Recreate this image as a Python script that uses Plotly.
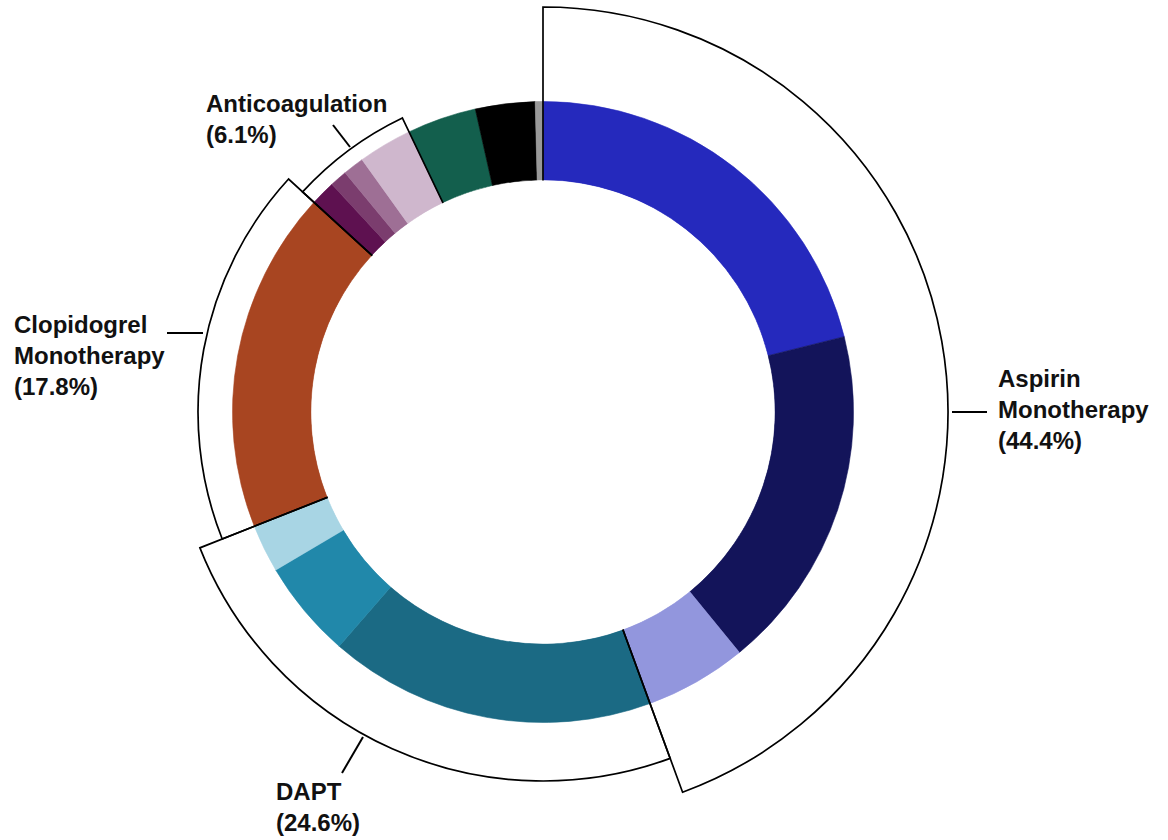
import numpy as np
import plotly.graph_objects as go

# ---------------- data ----------------
segment_names = [
    "Aspirin A", "Aspirin B", "Aspirin C",
    "DAPT A", "DAPT B", "DAPT C",
    "Clopidogrel",
    "Anticoag A", "Anticoag B", "Anticoag C", "Anticoag D",
    "Other A", "Other B", "Other C",
]
segment_values = [21.1, 18.0, 5.3, 17.0, 5.1, 2.5, 17.8, 1.3, 0.9, 1.1, 2.8, 3.6, 3.1, 0.4]
segment_colors = [
    "#2529BD", "#13145A", "#9296DD",
    "#1B6A84", "#2188AA", "#A8D5E4",
    "#A84521",
    "#5E1150", "#7B3D6E", "#9E6F95", "#CFB7CD",
    "#135F4D", "#000000", "#999999",
]

group_names = ["Aspirin<br>Monotherapy", "DAPT", "Clopidogrel<br>Monotherapy", "Anticoagulation"]
group_values = [44.4, 24.6, 17.8, 6.1]

# ---------------- geometry / style ----------------
W, H = 1168, 840
CX, CY = 543, 412          # centre in px (from top-left)
RMAX = 410                 # radial axis range in px units
RING_IN, RING_OUT = 232, 310.5
GROUP_OUTER = [405, 369, 345, 326]

seg = np.array(segment_values) * 3.6
seg_start = np.concatenate([[0], np.cumsum(seg)[:-1]])
seg_theta = seg_start + seg / 2

grp = np.array(group_values) * 3.6
grp_start = np.concatenate([[0], np.cumsum(grp)[:-1]])
grp_theta = grp_start + grp / 2

fig = go.Figure()

# ring segments
fig.add_trace(go.Barpolar(
    theta=seg_theta, width=seg, r=[RING_OUT - RING_IN] * len(seg),
    base=[RING_IN] * len(seg),
    marker=dict(color=segment_colors, line=dict(color=segment_colors, width=0.6)),
    hoverinfo="skip", showlegend=False,
))

# group brackets (outline only)
fig.add_trace(go.Barpolar(
    theta=grp_theta, width=grp, r=GROUP_OUTER, base=[0] * len(grp),
    marker=dict(color="rgba(0,0,0,0)", line=dict(color="black", width=1.7)),
    hoverinfo="skip", showlegend=False,
))

# white centre
fig.add_trace(go.Barpolar(
    theta=[90, 270], width=[180, 180], r=[RING_IN - 0.5, RING_IN - 0.5], base=[0, 0],
    marker=dict(color="white", line=dict(color="white", width=0)),
    hoverinfo="skip", showlegend=False,
))

dom_x = [(CX - RMAX) / W, (CX + RMAX) / W]
dom_y = [(H - CY - RMAX) / H, (H - CY + RMAX) / H]

fig.update_layout(
    width=W, height=H,
    margin=dict(l=0, r=0, t=0, b=0),
    paper_bgcolor="white",
    polar=dict(
        domain=dict(x=dom_x, y=dom_y),
        bgcolor="white",
        barmode="overlay",
        angularaxis=dict(rotation=90, direction="clockwise", showgrid=False,
                         showline=False, showticklabels=False, ticks=""),
        radialaxis=dict(range=[0, RMAX], showgrid=False, showline=False,
                        showticklabels=False, ticks=""),
    ),
    showlegend=False,
)

def px(x, y):
    return x / W, 1 - y / H

font = dict(family="Liberation Sans, Arial, sans-serif", size=24, color="#111111")

labels = [
    (f"{group_names[0]}<br>({group_values[0]}%)", 996, 409),
    (f"{group_names[1]}<br>({group_values[1]}%)", 274, 807),
    (f"{group_names[2]}<br>({group_values[2]}%)", 12, 355),
    (f"{group_names[3]}<br>({group_values[3]}%)", 204, 119),
]
for text, x, y in labels:
    ax, ay = px(x, y)
    fig.add_annotation(x=ax, y=ay, xref="paper", yref="paper", text=f"<b>{text}</b>",
                       showarrow=False, xanchor="left", yanchor="middle", align="left",
                       font=font)

leaders = [
    ((952, 412), (987, 412)),
    ((167, 333), (203, 333)),
    ((342, 773), (363, 737)),
    ((333, 125), (350, 147)),
]
for (x0, y0), (x1, y1) in leaders:
    a0, b0 = px(x0, y0)
    a1, b1 = px(x1, y1)
    fig.add_shape(type="line", xref="paper", yref="paper", x0=a0, y0=b0, x1=a1, y1=b1,
                  line=dict(color="black", width=2))

fig.write_html("out.html")
